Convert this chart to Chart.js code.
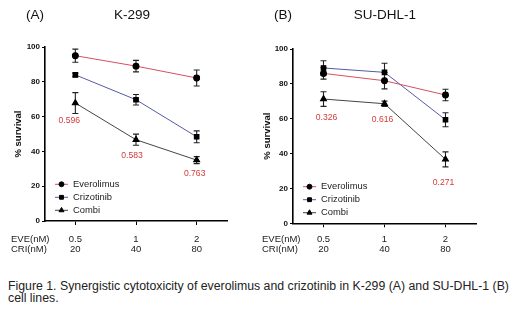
<!DOCTYPE html>
<html><head><meta charset="utf-8">
<script src="https://cdn.jsdelivr.net/npm/chart.js@4/dist/chart.umd.min.js"></script>
<style>
body{margin:0;background:#fff;width:520px;height:315px;overflow:hidden;position:relative;font-family:"Liberation Sans",Arial,sans-serif}
canvas{position:absolute;top:0}
.t{position:absolute;font-size:13.5px;color:#111;white-space:nowrap;transform:translate(-50%,-50%)}
#cap{position:absolute;left:8px;top:281px;font-size:12.3px;line-height:11.5px;color:#222;white-space:nowrap}
</style></head><body>
<canvas id="a" width="260" height="260" style="left:0"></canvas>
<canvas id="b" width="260" height="260" style="left:260px"></canvas>
<div class="t" style="left:35px;top:14px">(A)</div>
<div class="t" style="left:132px;top:14px">K-299</div>
<div class="t" style="left:283px;top:14px">(B)</div>
<div class="t" style="left:385px;top:14px">SU-DHL-1</div>
<div id="cap">Figure 1. Synergistic cytotoxicity of everolimus and crizotinib in K-299 (A) and SU-DHL-1 (B)<br>cell lines.</div>
<script>
const eveDose = ['0.5', '1', '2'];
const criDose = ['20', '40', '80'];
const seriesNames = ['Everolimus', 'Crizotinib', 'Combi'];

const k299Everolimus = [95, 89, 82.2];
const k299EverolimusErr = [3.8, 3.3, 4.6];
const k299Crizotinib = [84, 69.7, 48.4];
const k299CrizotinibErr = [1, 3, 3.4];
const k299Combi = [67.8, 46.7, 35];
const k299CombiErr = [6, 3.2, 2];
const k299CI = ['0.596', '0.583', '0.763'];

const sudEverolimus = [86, 81.8, 73.6];
const sudEverolimusErr = [3.3, 4.7, 3.3];
const sudCrizotinib = [89.1, 86.6, 59.4];
const sudCrizotinibErr = [4.2, 5.2, 4];
const sudCombi = [71.3, 68.6, 36.7];
const sudCombiErr = [4.2, 1.5, 4.3];
const sudCI = ['0.326', '0.616', '0.271'];

const FONT = '"Liberation Sans", Arial, sans-serif';
Chart.defaults.font.family = FONT;

const extras = {
  id: 'extras',
  afterDatasetsDraw(chart, args, opts) {
    const ctx = chart.ctx;
    const ys = chart.scales.y;
    ctx.save();
    chart.data.datasets.forEach((ds, i) => {
      const meta = chart.getDatasetMeta(i);
      meta.data.forEach((pt, j) => {
        const v = ds.data[j], e = ds.err[j];
        const y1 = ys.getPixelForValue(v + e), y2 = ys.getPixelForValue(v - e);
        ctx.strokeStyle = '#222'; ctx.lineWidth = 1.1;
        ctx.beginPath();
        ctx.moveTo(pt.x, y1); ctx.lineTo(pt.x, y2);
        ctx.moveTo(pt.x - 3, y1); ctx.lineTo(pt.x + 3, y1);
        ctx.moveTo(pt.x - 3, y2); ctx.lineTo(pt.x + 3, y2);
        ctx.stroke();
      });
    });
    chart.data.datasets.forEach((ds, i) => {
      const meta = chart.getDatasetMeta(i);
      meta.data.forEach(pt => {
        ctx.fillStyle = '#000'; ctx.strokeStyle = '#000';
        Chart.helpers.drawPoint(ctx, {pointStyle: ds.pointStyle, radius: ds.pointRadius, rotation: 0, borderWidth: 0.3}, pt.x, pt.y);
      });
    });
    const cm = chart.getDatasetMeta(2);
    ctx.fillStyle = '#d23a3a';
    ctx.font = '8.6px ' + FONT;
    ctx.textAlign = 'center'; ctx.textBaseline = 'middle';
    opts.ci.forEach((t, j) => {
      const pt = cm.data[j];
      ctx.fillText(t, pt.x + opts.ciOff[j][0], pt.y + opts.ciOff[j][1]);
    });
    ctx.font = '9.4px ' + FONT;
    ctx.textAlign = 'left';
    chart.data.datasets.forEach((ds, i) => {
      const y = opts.legY + i * opts.legGap;
      ctx.strokeStyle = ds.borderColor; ctx.lineWidth = 1;
      ctx.beginPath(); ctx.moveTo(opts.legX, y); ctx.lineTo(opts.legX + 13, y); ctx.stroke();
      ctx.fillStyle = '#000'; ctx.strokeStyle = '#000';
      Chart.helpers.drawPoint(ctx, {pointStyle: ds.pointStyle, radius: ds.pointRadius * 0.85, rotation: 0, borderWidth: 0.3}, opts.legX + 6.5, y);
      ctx.fillStyle = '#222';
      ctx.fillText(ds.label, opts.legX + 18, y);
    });
    ctx.font = '9.5px ' + FONT;
    ctx.fillStyle = '#222';
    ctx.fillText('EVE(nM)', opts.nameX, opts.nameY);
    ctx.fillText('CRI(nM)', opts.nameX, opts.nameY + 10);
    ctx.save();
    ctx.translate(opts.titleX, (chart.chartArea.top + chart.chartArea.bottom) / 2);
    ctx.rotate(-Math.PI / 2);
    ctx.textAlign = 'center';
    ctx.font = 'bold 9.5px ' + FONT;
    ctx.fillStyle = '#111';
    ctx.fillText('% survival', 0, 0);
    ctx.restore();
    ctx.restore();
  }
};

function makeChart(id, d, g) {
  const mk = (label, data, err, color, style, r) => ({
    label, data, err, borderColor: color, backgroundColor: '#000', borderWidth: 1,
    pointStyle: style, pointRadius: r, pointBackgroundColor: '#000', pointBorderColor: '#000',
    pointBorderWidth: 0, tension: 0, fill: false
  });
  return new Chart(document.getElementById(id), {
    type: 'line',
    data: {
      labels: eveDose.map((e, i) => [e, criDose[i]]),
      datasets: [
        mk(seriesNames[0], d.eve, d.eveErr, '#d5505f', 'circle', 2.9),
        mk(seriesNames[1], d.cri, d.criErr, '#5559a6', 'rect', 3.2),
        mk(seriesNames[2], d.com, d.comErr, '#444', 'triangle', 3.4)
      ]
    },
    options: {
      responsive: false, animation: false,
      layout: {padding: {left: 0, top: g.top, right: g.right, bottom: 0}},
      plugins: {
        legend: {display: false}, tooltip: {enabled: false},
        extras: {ci: d.ci, ciOff: g.ciOff, legX: g.legX, legY: g.legY, legGap: 13, nameX: g.nameX, nameY: g.nameY, titleX: g.titleX}
      },
      scales: {
        x: {
          offset: true,
          grid: {drawOnChartArea: false, tickLength: 4, color: '#000', lineWidth: 1},
          border: {color: '#000', width: 1.6},
          ticks: {font: {size: 9.5, lineHeight: 1.05}, color: '#222', padding: g.xpad, maxRotation: 0, autoSkip: false},
          afterFit: s => { s.height = g.xh; }
        },
        y: {
          min: 0, max: 100,
          ticks: {stepSize: 20, font: {size: 8, weight: 'bold'}, color: '#111', padding: 2},
          grid: {drawOnChartArea: false, tickLength: 3, color: '#000', lineWidth: 1},
          border: {color: '#000', width: 1.6},
          afterFit: s => { s.width = g.yw; }
        }
      }
    },
    plugins: [extras]
  });
}

makeChart('a', {eve: k299Everolimus, eveErr: k299EverolimusErr, cri: k299Crizotinib, criErr: k299CrizotinibErr, com: k299Combi, comErr: k299CombiErr, ci: k299CI},
  {top: 47, right: 33, yw: 45, xh: 39, xpad: 9, ciOff: [[-6, 18], [-4, 16], [-2, 14]], legX: 55, legY: 184.3, nameX: 11, nameY: 239.3, titleX: 18});
makeChart('b', {eve: sudEverolimus, eveErr: sudEverolimusErr, cri: sudCrizotinib, criErr: sudCrizotinibErr, com: sudCombi, comErr: sudCombiErr, ci: sudCI},
  {top: 49, right: 44, yw: 33, xh: 36.7, xpad: 7, ciOff: [[3, 19], [-2, 16], [-2, 23]], legX: 43, legY: 186.7, nameX: 2, nameY: 239.3, titleX: 7.5});
</script>
</body></html>
